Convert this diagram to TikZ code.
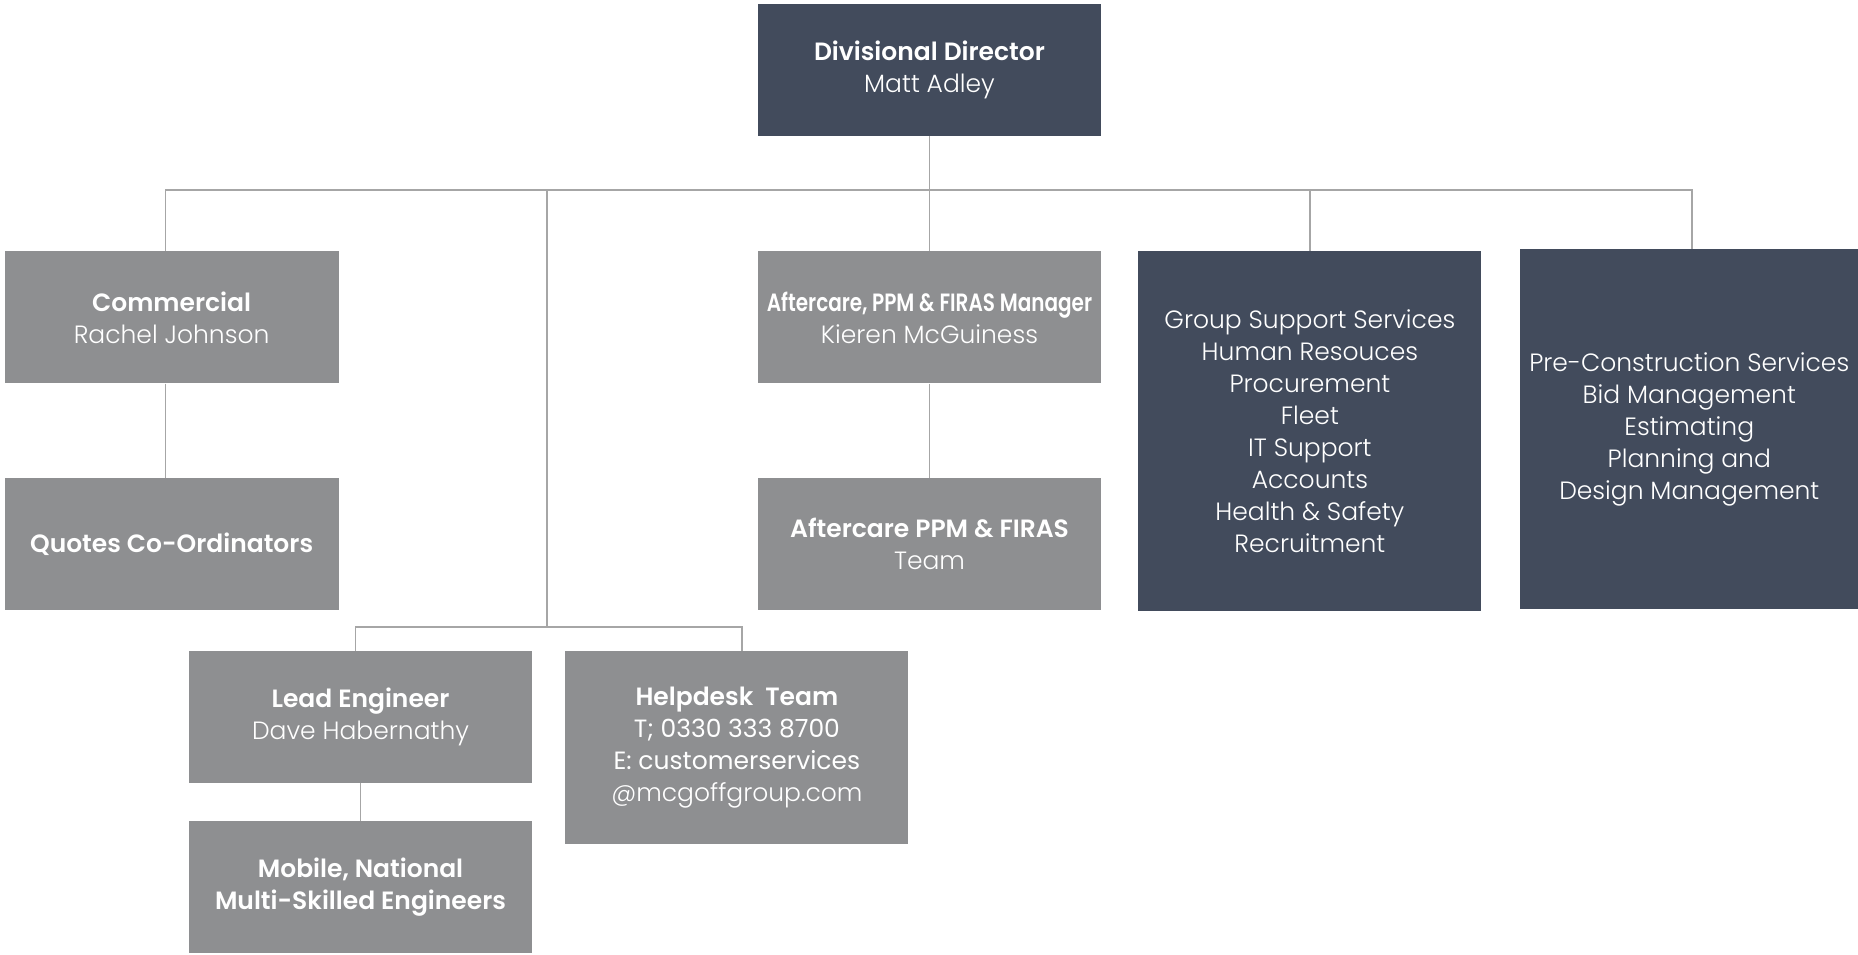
\documentclass[tikz,border=0pt]{standalone}
\usepackage{graphicx}
\usepackage{fontspec}
\IfFontExistsTF{Poppins Light}
  {\setmainfont{Poppins}[UprightFont=* Light, BoldFont=* SemiBold]
   \newfontface\midface{Poppins}}
  {\setmainfont{Poppins}
   \newfontface\midface{Poppins}}
\usetikzlibrary{positioning}

\definecolor{slate}{HTML}{424B5C}
\definecolor{ash}{HTML}{8E8F91}
\definecolor{wire}{HTML}{A6A6A6}

\tikzset{
  unit/.style={fill=ash, text=white, minimum width=343pt, minimum height=132pt,
    inner sep=0pt, align=center, font=\fontsize{25}{32}\selectfont},
  head/.style={unit, fill=slate},
  dept/.style={head, minimum height=360pt},
  link/.style={draw=wire, line width=1.5pt},
}

\begin{document}
\begin{tikzpicture}[x=1pt, y=1pt]
  \useasboundingbox (0,0) rectangle (1858,-954);

  % top row
  \node[head] (dir) at (929.5,-70) {\textbf{Divisional Director}\\Matt Adley};
  \node[unit, below=115pt of dir] (aft) {\scalebox{0.8}[1]{\textbf{Aftercare, PPM \& FIRAS Manager}}\\Kieren McGuiness};
  \node[unit, below=94pt of aft] (team) {\textbf{Aftercare PPM \& FIRAS}\\Team};
  \node[unit, minimum width=334pt, left=419pt of aft] (comm) {\textbf{Commercial}\\Rachel Johnson};
  \node[unit, minimum width=334pt, below=94pt of comm] (quot) {\textbf{Quotes Co-Ordinators}};
  \node[dept, right=37pt of aft.north east, anchor=north west] (grp) {Group Support Services\\Human Resouces\\Procurement\\Fleet\\IT Support\\Accounts\\Health \& Safety\\Recruitment};
  \node[dept, minimum width=339pt, right=38pt of grp.north east, anchor=north west, yshift=2pt] (pre) {Pre-Construction Services\\Bid Management\\Estimating\\Planning and\\Design Management};

  % engineers
  \node[unit] (lead) at (360.5,-717) {\textbf{Lead Engineer}\\Dave Habernathy};
  \node[unit, below=38pt of lead] (mob) {\textbf{Mobile, National}\\\textbf{Multi-Skilled Engineers}};
  \node[unit, minimum height=193pt, right=33pt of lead.north east, anchor=north west] (help) {\textbf{Helpdesk\ \ Team}\\{\midface T; 0330 333 8700}\\{\midface E: customerservices}\\@mcgoffgroup.com};

  \coordinate (bus) at (0,-190);
  \coordinate (fork) at (547,-190);
  \coordinate (sub) at (0,-627);
  \coordinate (commtop) at ([xshift=-6pt]comm.north);
  \coordinate (pretop) at ([xshift=2.5pt]pre.north);
  \coordinate (leadtop) at ([xshift=-5pt]lead.north);
  \coordinate (helptop) at ([xshift=5pt]help.north);

  \draw[link] (dir) -- (aft);
  \draw[link] (commtop) -- (commtop |- bus) -- (pretop |- bus) -- (pretop);
  \draw[link] (grp.north) -- (grp.north |- bus);
  \draw[link] (commtop |- comm.south) -- (commtop |- quot.north);
  \draw[link] (aft) -- (team);
  \draw[link] (fork) -- (fork |- sub);
  \draw[link] (leadtop) -- (leadtop |- sub) -- (helptop |- sub) -- (helptop);
  \draw[link] (lead) -- (mob);
\end{tikzpicture}
\end{document}
